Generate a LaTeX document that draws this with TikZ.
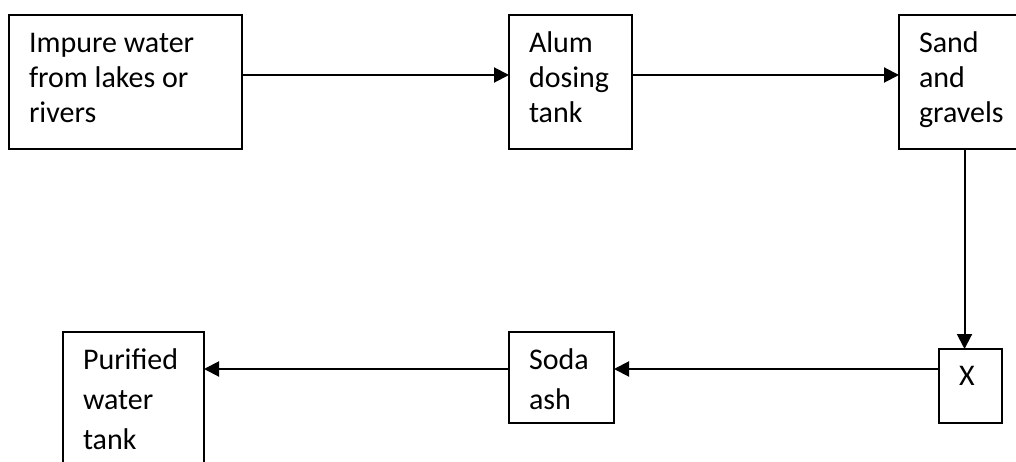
\documentclass[tikz,border=0pt]{standalone}
\usepackage{fontspec}
\setmainfont{Carlito}
\usetikzlibrary{arrows.meta,calc}

\tikzset{
  stage/.style={draw=black, line width=2pt, rectangle, inner sep=0pt, outer sep=0pt},
  label/.style={anchor=base west, inner sep=0pt, outer sep=0pt, text=black},
  flow/.style={line width=2pt, -{Triangle[length=15pt,width=15pt]}},
  link/.style={line width=2pt},
}
% lines of a box caption, first baseline as the reference point
\newcommand{\captlines}[2]{{\fontsize{30pt}{#1}\selectfont\begin{tabular}[t]{@{}l@{}}#2\end{tabular}}}

\begin{document}
\begin{tikzpicture}[x=1pt,y=-1pt]
  \useasboundingbox (0,0) rectangle (1016,462);
  \clip (0,0) rectangle (1016,462);
  \fill[white] (0,0) rectangle (1016,462);

  % process stages
  \node[stage, minimum width=233pt, minimum height=134pt] (raw)  at (125.5,82) {};
  \node[stage, minimum width=123pt, minimum height=134pt] (alum) at (570.5,82) {};
  \node[stage, minimum width=131pt, minimum height=134pt] (sand) at (964.5,82) {};
  \node[stage, minimum width=63pt,  minimum height=74pt]  (xbox) at (970.5,386) {};
  \node[stage, minimum width=105pt, minimum height=91pt]  (soda) at (561.5,377.5) {};
  \node[stage, minimum width=141pt, minimum height=150pt] (pure) at (133.5,407) {};

  % captions
  \node[label] (rawt)  at ($(raw.north west)+(20,38)$)  {\captlines{35pt}{Impure water\\from lakes or\\rivers}};
  \node[label] (alumt) at ($(alum.north west)+(20,38)$) {\captlines{35pt}{Alum\\dosing\\tank}};
  \node[label] (sandt) at ($(sand.north west)+(20,38)$) {\captlines{35pt}{Sand\\and\\gravels}};
  \node[label] (xt)    at ($(xbox.north west)+(20,36)$) {\captlines{35pt}{X}};
  \node[label] (sodat) at ($(soda.north west)+(20,37)$) {\captlines{40pt}{Soda\\ash}};
  \node[label] (puret) at ($(pure.north west)+(20,37)$) {\captlines{40pt}{Purified\\water\\tank}};

  % connectors
  \coordinate (r1) at ($(raw.north east)+(0,60)$);
  \draw[flow] (r1) -- (alum.west |- r1);
  \coordinate (r2) at ($(alum.north east)+(0,60)$);
  \draw[flow] (r2) -- (sand.west |- r2);
  \draw[flow] (sand.south) -- (sand.south |- xbox.north);
  \coordinate (r3) at ($(xbox.north west)+(0,20)$);
  \draw[flow] (r3) -- (soda.east |- r3);
  \coordinate (r4) at (soda.west |- r3);
  \draw[flow] (r4) -- (pure.east |- r4);
\end{tikzpicture}
\end{document}
